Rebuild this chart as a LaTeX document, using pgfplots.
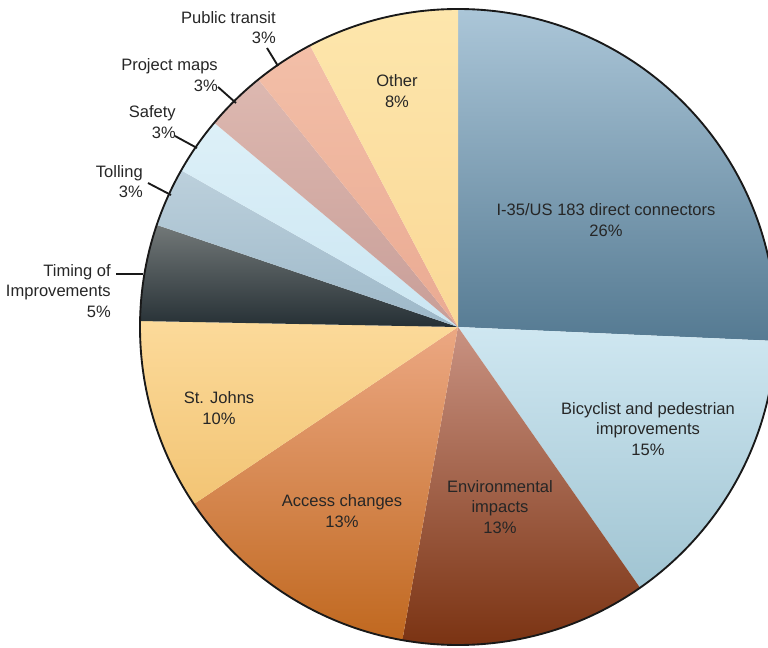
\documentclass[border=0pt]{standalone}
\usepackage{pgfplots}
\usepackage{pgfplotstable}
\usepackage{fontspec}
\setmainfont{Liberation Sans}
\pgfplotsset{compat=1.18}

\definecolor{s1t}{HTML}{ABC6D8}\definecolor{s1b}{HTML}{557A92}
\definecolor{s2t}{HTML}{CFE7F1}\definecolor{s2b}{HTML}{A0C4D2}
\definecolor{s3t}{HTML}{C99282}\definecolor{s3b}{HTML}{78300F}
\definecolor{s4t}{HTML}{ECA883}\definecolor{s4b}{HTML}{C0681F}
\definecolor{s5t}{HTML}{FCDA9A}\definecolor{s5b}{HTML}{F2C474}
\definecolor{s6t}{HTML}{727878}\definecolor{s6b}{HTML}{263035}
\definecolor{s7t}{HTML}{BCD0DC}\definecolor{s7b}{HTML}{9DB8C8}
\definecolor{s8t}{HTML}{DDF0F8}\definecolor{s8b}{HTML}{CBE6F2}
\definecolor{s9t}{HTML}{DDB8B0}\definecolor{s9b}{HTML}{C89E98}
\definecolor{s10t}{HTML}{F3BFA8}\definecolor{s10b}{HTML}{EAAA92}
\definecolor{s11t}{HTML}{FDE6AC}\definecolor{s11b}{HTML}{FAD896}
\definecolor{lbl}{HTML}{262626}

% shares, clockwise from 12 o'clock
\pgfplotstableread{
share top bottom
25.7 s1t s1b
14.6 s2t s2b
12.5 s3t s3b
12.8 s4t s4b
9.7 s5t s5b
4.9 s6t s6b
3.0 s7t s7b
2.9 s8t s8b
3.1 s9t s9b
3.1 s10t s10b
7.7 s11t s11b
}\piedata

\begin{document}
\begin{tikzpicture}[font=\fontsize{12.4}{15.5}\selectfont]
\begin{axis}[
    hide axis,
    x=0.75pt, y=0.75pt,
    xmin=0, xmax=768, ymin=0, ymax=647,
    scale only axis,
    clip=false,
]
\pgfplotstablegetrowsof{\piedata}
\pgfmathtruncatemacro\nrows{\pgfplotsretval-1}
\xdef\astart{90}
\foreach \i in {0,...,\nrows}{
    \pgfplotstablegetelem{\i}{share}\of\piedata \let\v\pgfplotsretval
    \pgfplotstablegetelem{\i}{top}\of\piedata \let\ct\pgfplotsretval
    \pgfplotstablegetelem{\i}{bottom}\of\piedata \let\cb\pgfplotsretval
    \pgfmathsetmacro\aend{\astart-3.6*\v}
    \edef\temp{\noexpand\shade[top color=\ct, bottom color=\cb]
        (axis cs:458,320) -- ++(\astart:238.5pt)
        arc[start angle=\astart, end angle=\aend, radius=238.5pt] -- cycle;}
    \temp
    \xdef\astart{\aend}
}
\draw[line width=1.4pt, black!90] (axis cs:458,320) circle[radius=238.5pt];

% labels inside the slices
\begin{scope}[every node/.style={align=center, text=lbl, inner sep=0pt}]
\node at (axis cs:606,427) {I-35/US 183 direct connectors\\26\%};
\node at (axis cs:648,218) {Bicyclist and pedestrian\\improvements\\15\%};
\node at (axis cs:500,140) {Environmental\\impacts\\13\%};
\node at (axis cs:342,136) {Access changes\\13\%};
\node at (axis cs:219,239) {St. Johns\\10\%};
\node at (axis cs:397,556) {Other\\8\%};
\end{scope}

% labels outside with leaders
\begin{scope}[every node/.style={align=right, anchor=east, text=lbl, inner sep=0pt}]
\node at (axis cs:276,619.5) {Public transit\\3\%};
\node at (axis cs:218,572) {Project maps\\3\%};
\node at (axis cs:176,525) {Safety\\3\%};
\node at (axis cs:143,465.5) {Tolling\\3\%};
\node at (axis cs:111,356) {Timing of\\Improvements\\5\%};
\end{scope}
\begin{scope}[line width=1.4pt, black!90]
\draw (axis cs:267,599) -- (axis cs:278,581);
\draw (axis cs:218,560) -- (axis cs:236,544);
\draw (axis cs:175,511) -- (axis cs:197,499);
\draw (axis cs:148,464) -- (axis cs:171,452);
\draw (axis cs:116,373) -- (axis cs:143,373);
\end{scope}
\end{axis}
\pgfresetboundingbox
\useasboundingbox (current axis.south west) rectangle (current axis.north east);
\end{tikzpicture}
\end{document}
